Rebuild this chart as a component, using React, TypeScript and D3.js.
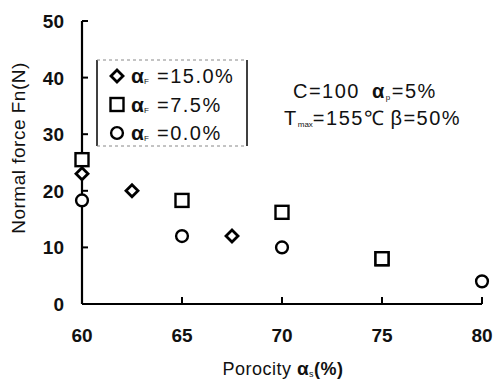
import React from "react";
import * as d3 from "d3";

const xTicks = [60, 65, 70, 75, 80];
const yTicks = [0, 10, 20, 30, 40, 50];

const diamondX = [60, 62.5, 67.5];
const diamondY = [23, 20, 12];
const squareX = [60, 65, 70, 75];
const squareY = [25.5, 18.3, 16.2, 8];
const circleX = [60, 65, 70, 75, 80];
const circleY = [18.3, 12, 10, 8, 4];

const legendLabels = ["=15.0%", "=7.5%", "=0.0%"];

const W = 498, H = 382;
const M = { left: 82, right: 482, top: 21, bottom: 304 };

export default function App() {
  const x = d3.scaleLinear().domain([60, 80]).range([M.left, M.right]);
  const y = d3.scaleLinear().domain([0, 50]).range([M.bottom, M.top]);
  const font = "'Liberation Sans', Arial, sans-serif";
  const sw = 2.4;

  const diamond = (cx: number, cy: number, k: string | number) => (
    <path key={k} d={`M${cx},${cy - 6} L${cx + 6},${cy} L${cx},${cy + 6} L${cx - 6},${cy} Z`}
      fill="white" stroke="black" strokeWidth={sw + 0.4} />
  );
  const square = (cx: number, cy: number, k: string | number) => (
    <rect key={k} x={cx - 6.5} y={cy - 6.5} width={13} height={13} fill="white" stroke="black" strokeWidth={sw} />
  );
  const circle = (cx: number, cy: number, k: string | number) => (
    <circle key={k} cx={cx} cy={cy} r={5.9} fill="white" stroke="black" strokeWidth={sw} />
  );

  return (
    <svg width={W} height={H} style={{ position: "absolute", left: 0, top: 0, background: "white" }}
      fontFamily={font}>
      {/* axes */}
      <line x1={M.left} x2={M.left} y1={M.top} y2={M.bottom} stroke="black" strokeWidth={2.2} />
      <line x1={M.left} x2={M.right} y1={M.bottom} y2={M.bottom} stroke="black" strokeWidth={2.2} />
      {yTicks.map((t) => (
        <g key={"y" + t}>
          {t > 0 && <line x1={M.left} x2={M.left + 6} y1={y(t)} y2={y(t)} stroke="black" strokeWidth={2} />}
          <text x={64} y={y(t) + 7} textAnchor="end" fontSize={19} fontWeight="bold" fill="#111">{t}</text>
        </g>
      ))}
      {xTicks.map((t) => (
        <g key={"x" + t}>
          {t > 60 && <line x1={x(t)} x2={x(t)} y1={M.bottom} y2={M.bottom - 7} stroke="black" strokeWidth={2} />}
          <text x={x(t)} y={342} textAnchor="middle" fontSize={19} fontWeight="bold" fill="#111">{t}</text>
        </g>
      ))}
      {/* axis titles */}
      <text transform={`translate(25,148) rotate(-90)`} textAnchor="middle"
        fontSize={19} letterSpacing={0.5} fill="#111">Normal force Fn(N)</text>
      <text x={283} y={375} textAnchor="middle" fontSize={18} letterSpacing={0.5} fill="#111">
        Porocity <tspan fontWeight="bold" fontSize={19}>α</tspan><tspan fontSize={9} dy={2}>s</tspan><tspan dy={-2} fontWeight="bold">(%)</tspan>
      </text>

      {/* data */}
      {squareX.map((v, i) => square(x(v), y(squareY[i]), "s" + i))}
      {circleX.map((v, i) => circle(x(v), y(circleY[i]), "c" + i))}
      {diamondX.map((v, i) => diamond(x(v), y(diamondY[i]), "d" + i))}
      {square(x(75), y(8), "s75top")}

      {/* legend */}
      <line x1={97} x2={97} y1={60} y2={146} stroke="black" strokeWidth={1.5} />
      <line x1={247} x2={247} y1={60} y2={146} stroke="black" strokeWidth={1.5} />
      <line x1={97} x2={247} y1={60} y2={60} stroke="#888" strokeWidth={1} strokeDasharray="3,3" />
      <line x1={97} x2={247} y1={146} y2={146} stroke="#888" strokeWidth={1} strokeDasharray="3,3" />
      {legendLabels.map((l, i) => {
        const cy = 76 + i * 28.5;
        const mk = i === 0 ? diamond(117, cy, "ld") : i === 1 ? square(117, cy, "ls") : circle(117, cy, "lc");
        return (
          <g key={"l" + i}>
            {mk}
            <text x={131} y={cy + 7} fontSize={20} fill="#111">
              <tspan fontSize={21} fontWeight="bold">α</tspan><tspan fontSize={8} dy={1}>F</tspan>
              <tspan dy={-1} x={157} letterSpacing={1.5}>{l}</tspan>
            </text>
          </g>
        );
      })}

      {/* annotation */}
      <text x={293} y={98} fontSize={20} letterSpacing={1.5} fill="#111">
        C=100<tspan dx={12} fontWeight="bold">α</tspan><tspan fontSize={8} dy={2}>p</tspan><tspan dy={-2}>=5%</tspan>
      </text>
      <text x={284} y={125} fontSize={20} letterSpacing={1.5} fill="#111">
        T<tspan fontSize={8} dy={2} letterSpacing={0}>max</tspan><tspan dy={-2}>=155℃</tspan><tspan dx={5}>β=50%</tspan>
      </text>
    </svg>
  );
}
